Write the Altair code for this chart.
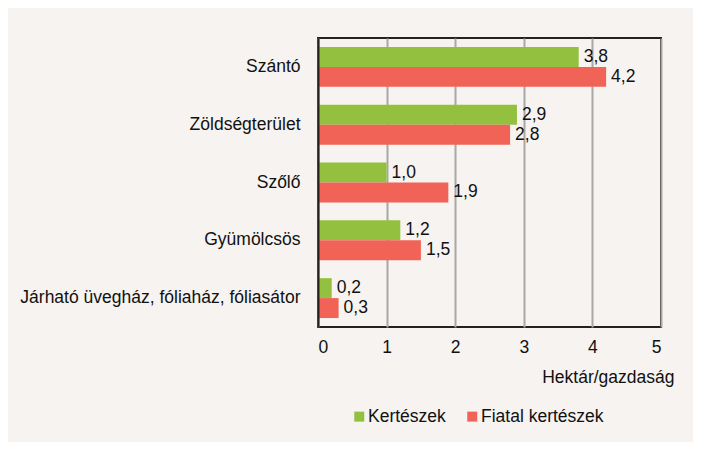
import altair as alt
import pandas as pd

categories = ["Szántó", "Zöldségterület", "Szőlő", "Gyümölcsös",
              "Járható üvegház, fóliaház, fóliasátor"]
kerteszek = [3.8, 2.9, 1.0, 1.2, 0.2]
fiatal = [4.2, 2.8, 1.9, 1.5, 0.3]
series = ["Kertészek", "Fiatal kertészek"]
colors = ["#93c13f", "#f06356"]
x_ticks = [0, 1, 2, 3, 4, 5]

rows = []
for c, a, b in zip(categories, kerteszek, fiatal):
    rows.append({"cat": c, "series": series[0], "value": a})
    rows.append({"cat": c, "series": series[1], "value": b})
df = pd.DataFrame(rows)

FONT = "Liberation Sans"
FS = 17.5

base = alt.Chart(df).encode(
    y=alt.Y("cat:N", sort=categories,
            scale=alt.Scale(paddingInner=0.31, paddingOuter=0.155),
            axis=alt.Axis(title=None, domain=True, domainColor="#222222",
                          domainWidth=2, ticks=False, labelPadding=18,
                          labelFontSize=FS, labelFont=FONT,
                          labelColor="#111111",
                          zindex=1, grid=False, labelLimit=400)),
    yOffset=alt.YOffset("series:N", sort=series,
                        scale=alt.Scale(paddingInner=0, paddingOuter=0)),
)

bars = base.mark_bar().encode(
    x=alt.X("value:Q", scale=alt.Scale(domain=[0, 5]),
            axis=alt.Axis(values=x_ticks, format="d", grid=True,
                          gridColor="#a8a8a8",
                          gridWidth=2, domain=False, ticks=False,
                          labelPadding=11, labelFontSize=FS, labelFont=FONT,
                          labelColor="#111111",
                          title="Hektár/gazdaság", titleFontSize=FS,
                          titleFont=FONT,
                          titleFontWeight="normal", titleColor="#111111",
                          titleAlign="right", titleBaseline="alphabetic",
                          titleAnchor="end", titleX=356, titleY=55)),
    color=alt.Color("series:N", sort=series,
                    scale=alt.Scale(domain=series, range=colors),
                    legend=alt.Legend(title=None, orient="none",
                                      legendX=32.5, legendY=369.5,
                                      direction="horizontal",
                                      symbolType="square", symbolSize=100,
                                      symbolStrokeWidth=0,
                                      labelFontSize=FS, labelFont=FONT,
                                      labelColor="#111111",
                                      labelOffset=0, columnPadding=17,
                                      padding=0)),
)

labels = base.mark_text(align="left", baseline="middle", dx=5,
                        fontSize=FS, font=FONT, color="#111111").encode(
    x="value:Q",
    text="label:N",
).transform_calculate(label="replace(format(datum.value, '.1f'), '.', ',')")

chart = alt.layer(bars, labels).properties(
    width=343, height=289,
    autosize=alt.AutoSizeParams(type="none"),
    padding={"left": 310, "top": 30, "right": 32, "bottom": 115},
    background="#f6f3f0",
).configure(font=FONT).configure_view(stroke="#222222", strokeWidth=2)

chart.save("out.html", embed_options={"renderer": "svg", "actions": False})
